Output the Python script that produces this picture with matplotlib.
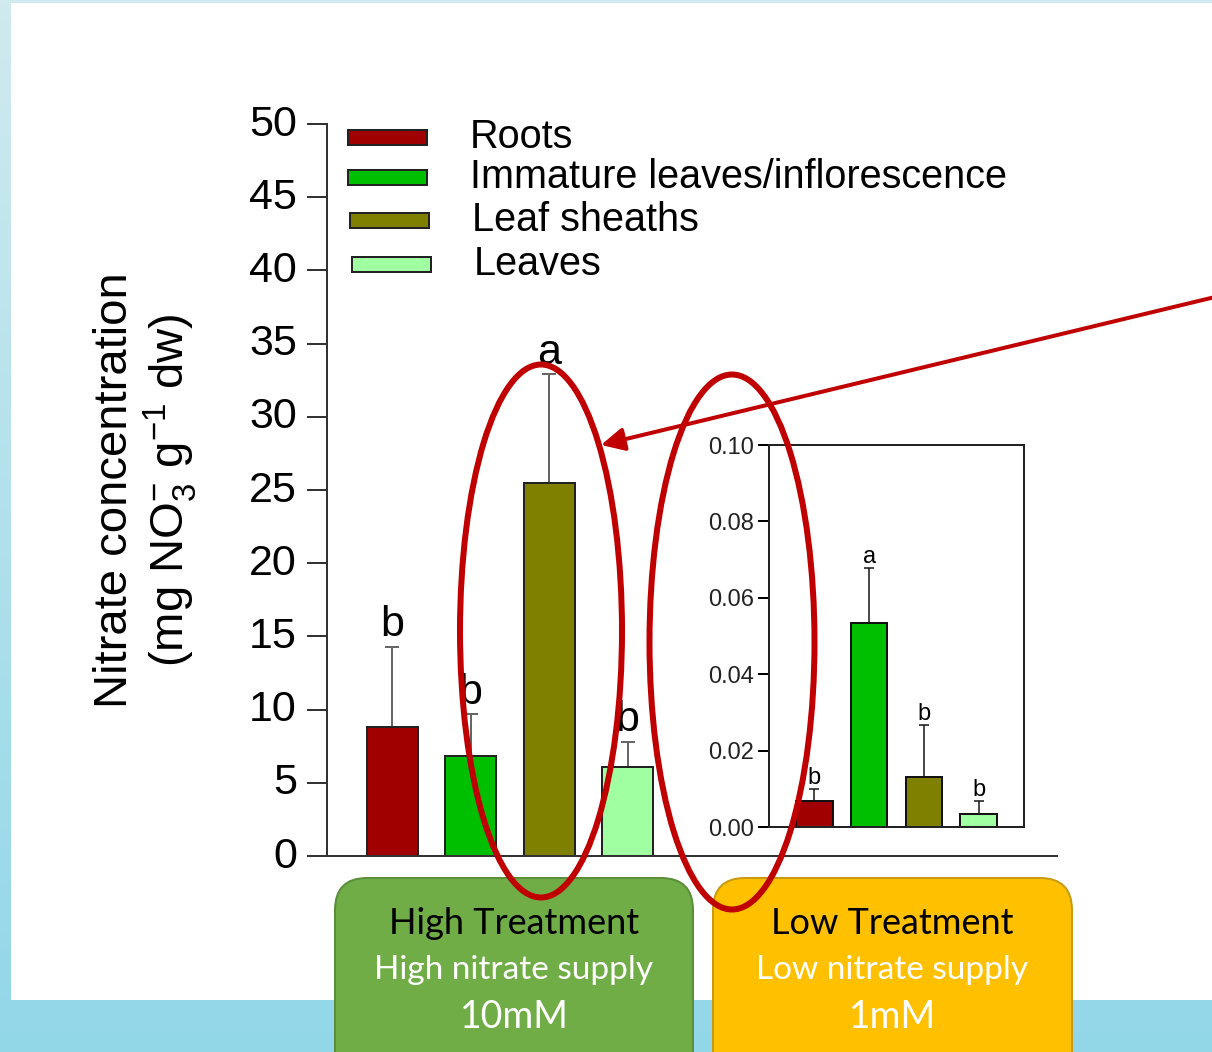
import numpy as np
import matplotlib
matplotlib.use("Agg")
import matplotlib.pyplot as plt
from matplotlib.patches import Rectangle, Ellipse, FancyBboxPatch, FancyArrowPatch
from matplotlib.transforms import ScaledTranslation

plt.rcParams['font.family'] = ['Liberation Sans', 'DejaVu Sans']
plt.rcParams['mathtext.fontset'] = 'custom'
plt.rcParams['mathtext.rm'] = 'Liberation Sans'
plt.rcParams['mathtext.it'] = 'Liberation Sans:italic'

# tissues and their bar colours
tissues = ['Roots', 'Immature leaves/inflorescence', 'Leaf sheaths', 'Leaves']
colors = ['#a00000', '#00bf00', '#808000', '#a0ffa0']

# high nitrate supply (10 mM), mg NO3- / g dw
high_mean = [8.8, 6.8, 25.5, 6.1]
high_err = [5.5, 2.9, 7.4, 1.7]
high_letters = ['b', 'b', 'a', 'b']

# low nitrate supply (1 mM)
low_mean = [0.0068, 0.0534, 0.0131, 0.0034]
low_err = [0.0031, 0.0144, 0.0136, 0.0034]
low_letters = ['b', 'a', 'b', 'b']

W, H = 1212, 1052
DPI = 100
PT = 72 / DPI  # points per pixel


def frame(x0, y0, x1, y1):
    return [x0 / W, 1 - y1 / H, (x1 - x0) / W, (y1 - y0) / H]


fig = plt.figure(figsize=(W / DPI, H / DPI), dpi=DPI)

# backdrop: blue gradient with a white slide panel
bg = fig.add_axes([0, 0, 1, 1], zorder=-5)
grad = np.linspace(0, 1, 256)[:, None]
top_c = np.array([0xd0, 0xea, 0xef]) / 255
bot_c = np.array([0x92, 0xd7, 0xe8]) / 255
img = top_c[None, None, :] * (1 - grad[..., None]) + bot_c[None, None, :] * grad[..., None]
bg.imshow(np.repeat(img, 2, axis=1), aspect='auto', extent=[0, W, H, 0])
bg.add_patch(Rectangle((11, 3), W, 997, facecolor='white', edgecolor='none'))
bg.set_xlim(0, W)
bg.set_ylim(H, 0)
bg.axis('off')

# main panel
ax = fig.add_axes(frame(327, 124, 1057, 856))
x = np.arange(len(tissues))
ax.bar(x, high_mean, width=0.65, color=colors, edgecolor='#222222',
       linewidth=2 * PT, zorder=2)
ax.errorbar(x, high_mean, yerr=[np.zeros(4), high_err], fmt='none',
            ecolor='#666666', elinewidth=2 * PT, capsize=7 * PT,
            capthick=2 * PT, zorder=1)
for xi, m, e, lt in zip(x, high_mean, high_err, high_letters):
    ax.annotate(lt, (xi, m + e), xytext=(0, 1), textcoords='offset points',
                ha='center', va='bottom', fontsize=31)
ax.set_xlim(-0.83, 8.47)
ax.set_ylim(0, 50)
ax.set_yticks(np.arange(0, 51, 5))
ax.set_xticks([])
for s in ['top', 'right']:
    ax.spines[s].set_visible(False)
for s in ['left', 'bottom']:
    ax.spines[s].set_linewidth(2 * PT)
    ax.spines[s].set_color('#333333')
ax.tick_params(axis='y', length=20 * PT, width=2 * PT, color='#333333',
               pad=10 * PT, labelsize=31)
# nudge the big tick numbers up a little so they sit centred on the ticks
lift = ScaledTranslation(0, 4 / DPI, fig.dpi_scale_trans)
for lbl in ax.get_yticklabels():
    lbl.set_transform(lbl.get_transform() + lift)
ax.patch.set_alpha(0)

fig.text(146 / W, 1 - 490 / H,
         'Nitrate concentration\n(mg NO$_3^{-}$ g$^{-1}$ dw)',
         rotation=90, ha='center', va='center', fontsize=34,
         linespacing=1.12)

# inset for the low-supply treatment
ins = fig.add_axes(frame(769, 445, 1024, 827))
ins.bar(x, low_mean, width=0.67, color=colors, edgecolor='#111111',
        linewidth=2 * PT, zorder=2)
ins.errorbar(x, low_mean, yerr=[np.zeros(4), low_err], fmt='none',
             ecolor='#111111', elinewidth=1.5 * PT, capsize=5 * PT,
             capthick=1.5 * PT, zorder=1)
for xi, m, e, lt in zip(x, low_mean, low_err, low_letters):
    ins.annotate(lt, (xi, m + e), xytext=(0, 0), textcoords='offset points',
                 ha='center', va='bottom', fontsize=17)
ins.set_xlim(-0.83, 3.83)
ins.set_ylim(0, 0.10)
ins.set_yticks(np.arange(0, 0.101, 0.02))
ins.set_yticklabels([f'{v:.2f}' for v in np.arange(0, 0.101, 0.02)])
ins.set_xticks([])
for s in ins.spines.values():
    s.set_linewidth(2 * PT)
    s.set_color('#222222')
ins.tick_params(axis='y', length=11 * PT, width=2 * PT, pad=4 * PT,
                labelsize=17, labelcolor='#222222')

# overlay in pixel units: legend, treatment boxes, highlight ellipses, arrow
ov = fig.add_axes([0, 0, 1, 1], zorder=10)
ov.set_xlim(0, W)
ov.set_ylim(H, 0)
ov.axis('off')

legend_y = [137, 177, 220, 264]
legend_px = [348, 348, 350, 352]
legend_tx = [470, 470, 472, 474]
for lab, c, yy, px, tx in zip(tissues, colors, legend_y, legend_px, legend_tx):
    ov.add_patch(Rectangle((px, yy - 7.5), 79, 15, facecolor=c,
                           edgecolor='#222222', linewidth=2 * PT))
    ov.text(tx, yy, lab, ha='left', va='center', fontsize=28.5)

boxes = [
    (335, 693, '#70ad47', '#5b8e3a', 'High Treatment',
     'High nitrate supply', '10mM'),
    (713, 1072, '#ffc000', '#c99a10', 'Low Treatment',
     'Low nitrate supply', '1mM'),
]
for x0, x1, fc, ec, title, sub, conc in boxes:
    ov.add_patch(FancyBboxPatch((x0, 878), x1 - x0, 220,
                                boxstyle='round,pad=0,rounding_size=32',
                                facecolor=fc, edgecolor=ec,
                                linewidth=2 * PT))
    cx = (x0 + x1) / 2
    ov.text(cx, 924, title, ha='center', va='center', fontsize=26,
            family='Lato', color='black')
    ov.text(cx, 970, sub, ha='center', va='center', fontsize=24,
            family='Lato', color='white')
    ov.text(cx, 1017, conc, ha='center', va='center', fontsize=27,
            family='Lato', color='white')

red = '#c00000'
ov.add_patch(Ellipse((541, 631), 162, 533, fill=False, edgecolor=red,
                     linewidth=6 * PT))
ov.add_patch(Ellipse((732, 642), 165, 535, fill=False, edgecolor=red,
                     linewidth=6 * PT))
ov.add_patch(FancyArrowPatch((1240, 291), (601, 445),
                             arrowstyle='-|>,head_length=14,head_width=7',
                             color=red, linewidth=4 * PT,
                             shrinkA=0, shrinkB=0))

fig.savefig('out.png', dpi=DPI)
